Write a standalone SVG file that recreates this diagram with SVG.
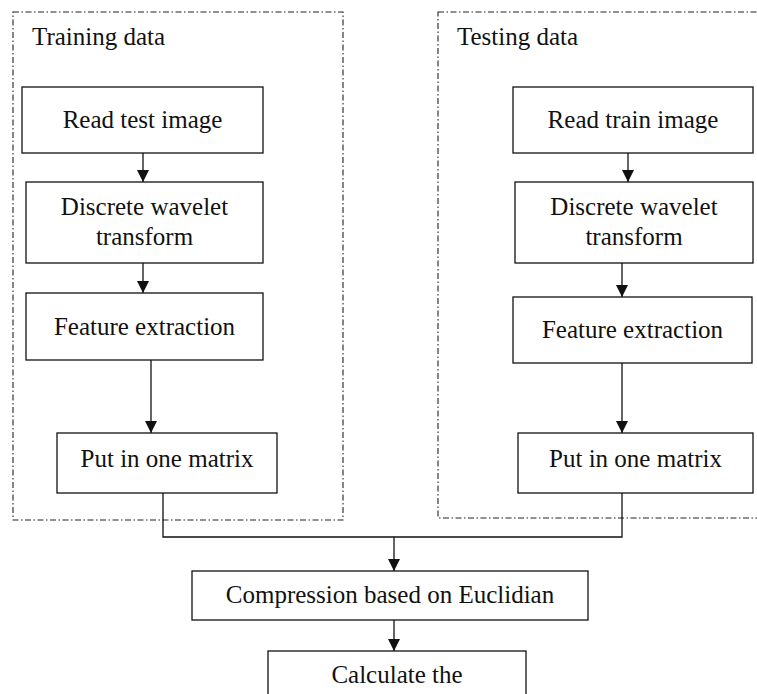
<svg xmlns="http://www.w3.org/2000/svg" width="757" height="694" viewBox="0 0 757 694">
<style>
.box{fill:#fff;stroke:#111;stroke-width:1.3}
.grp{fill:none;stroke:#222;stroke-width:1.1;stroke-dasharray:6 2.5 1.5 2.5}
.t{font-family:'Liberation Serif','DejaVu Serif',serif;font-size:25px;fill:#111;text-anchor:middle}
.lbl{font-family:'Liberation Serif','DejaVu Serif',serif;font-size:25px;fill:#111}
.c{fill:none;stroke:#111;stroke-width:1.3}
</style>
<defs>
<marker id="ah" markerWidth="12" markerHeight="12" viewBox="0 0 12 12" refX="12" refY="6" orient="auto" markerUnits="userSpaceOnUse">
<path d="M0,0 L12,6 L0,12 Z" fill="#111"/>
</marker>
</defs>
<rect width="757" height="694" fill="#fff"/>
<g id="training-group">
<rect class="grp" x="13" y="12" width="330" height="508"/>
<text class="lbl" x="32" y="45">Training data</text>
</g>
<g id="testing-group">
<rect class="grp" x="438" y="12" width="340" height="506"/>
<text class="lbl" x="457" y="45">Testing data</text>
</g>
<g id="connectors">
<path class="c" d="M143,153 V182" marker-end="url(#ah)"/>
<path class="c" d="M143,263 V293" marker-end="url(#ah)"/>
<path class="c" d="M151,360 V433" marker-end="url(#ah)"/>
<path class="c" d="M628,153 V182" marker-end="url(#ah)"/>
<path class="c" d="M622,263 V297" marker-end="url(#ah)"/>
<path class="c" d="M622,363 V433" marker-end="url(#ah)"/>
<path class="c" d="M163,493 V537 H622 V493"/>
<path class="c" d="M394,537 V571" marker-end="url(#ah)"/>
<path class="c" d="M394,620 V651" marker-end="url(#ah)"/>
</g>
<g id="read-test">
<rect class="box" x="22" y="87" width="241" height="66"/>
<text class="t" x="142.5" y="128">Read test image</text>
</g>
<g id="dwt-left">
<rect class="box" x="26" y="182" width="237" height="81"/>
<text class="t" x="144.5" y="215">Discrete wavelet</text>
<text class="t" x="144.5" y="245">transform</text>
</g>
<g id="feature-left">
<rect class="box" x="26" y="293" width="237" height="67"/>
<text class="t" x="144.5" y="335">Feature extraction</text>
</g>
<g id="matrix-left">
<rect class="box" x="57" y="433" width="220" height="60"/>
<text class="t" x="167" y="467">Put in one matrix</text>
</g>
<g id="read-train">
<rect class="box" x="513" y="87" width="240" height="66"/>
<text class="t" x="633" y="128">Read train image</text>
</g>
<g id="dwt-right">
<rect class="box" x="515" y="182" width="238" height="81"/>
<text class="t" x="634" y="215">Discrete wavelet</text>
<text class="t" x="634" y="245">transform</text>
</g>
<g id="feature-right">
<rect class="box" x="513" y="297" width="239" height="66"/>
<text class="t" x="632.5" y="338">Feature extraction</text>
</g>
<g id="matrix-right">
<rect class="box" x="518" y="433" width="235" height="60"/>
<text class="t" x="635.5" y="467">Put in one matrix</text>
</g>
<g id="compression">
<rect class="box" x="192" y="571" width="396" height="49"/>
<text class="t" x="390" y="603">Compression based on Euclidian</text>
</g>
<g id="calculate">
<rect class="box" x="268" y="651" width="258" height="60"/>
<text class="t" x="397" y="683">Calculate the</text>
</g>
</svg>
